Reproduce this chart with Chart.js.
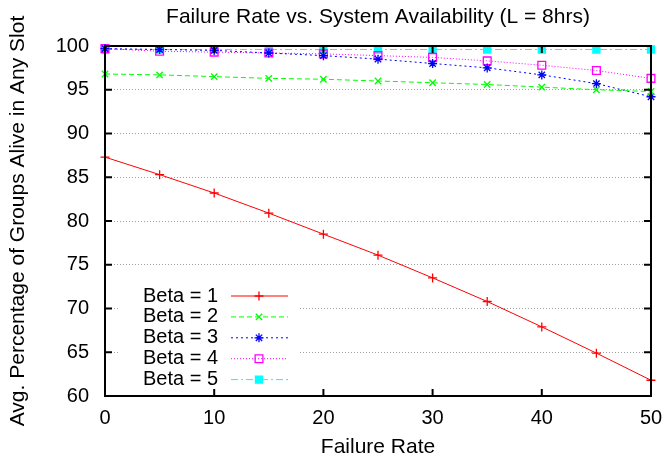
<!DOCTYPE html>
<html>
<head>
<meta charset="utf-8">
<script src="https://cdn.jsdelivr.net/npm/chart.js@4/dist/chart.umd.min.js"></script>
<style>
  html, body { margin: 0; padding: 0; background: #fff; }
</style>
</head>
<body>
<canvas id="myChart" width="665" height="460"></canvas>
<script>
// values, x = failure rate
var failureRates = [0, 5, 10, 15, 20, 25, 30, 35, 40, 45, 50];
var beta1 = [87.3, 85.3, 83.2, 80.9, 78.5, 76.1, 73.5, 70.8, 67.9, 64.9, 61.8];
var beta2 = [96.8, 96.7, 96.5, 96.3, 96.2, 96.0, 95.8, 95.6, 95.3, 95.0, 94.8];
var beta3 = [99.7, 99.6, 99.5, 99.2, 98.9, 98.5, 98.0, 97.5, 96.7, 95.7, 94.2];
var beta4 = [99.7, 99.4, 99.3, 99.2, 99.1, 98.9, 98.7, 98.3, 97.8, 97.2, 96.3];
var beta5 = [99.6, 99.6, 99.6, 99.6, 99.6, 99.6, 99.6, 99.6, 99.6, 99.6, 99.6];
var seriesNames = ['Beta = 1', 'Beta = 2', 'Beta = 3', 'Beta = 4', 'Beta = 5'];
var xTicks = [0, 10, 20, 30, 40, 50];
var yTicks = [60, 65, 70, 75, 80, 85, 90, 95, 100];
var chartTitle = 'Failure Rate vs. System Availability (L = 8hrs)';

var FONT = 'Liberation Sans, Arial, Helvetica, sans-serif';

function pts(ys) {
    return failureRates.map(function (x, i) { return { x: x, y: ys[i] }; });
}

function series(label, ys, color, dash, style, radius, filled) {
    return {
        label: label,
        data: pts(ys),
        borderColor: color,
        backgroundColor: filled ? color : 'rgba(0,0,0,0)',
        borderWidth: 1,
        borderDash: dash,
        pointStyle: style,
        pointRadius: radius,
        pointBorderWidth: 1.3,
        pointBorderColor: color,
        pointBackgroundColor: filled ? color : 'rgba(0,0,0,0)',
        tension: 0,
        fill: false,
        clip: false
    };
}

// key box inside the plot, bottom left (covers the grid like gnuplot's)
var keyPlugin = {
    id: 'key',
    afterDatasetsDraw: function (chart) {
        var ctx = chart.ctx;
        ctx.save();
        ctx.fillStyle = '#fff';
        ctx.fillRect(118, 283, 180, 110);
        ctx.font = '20px ' + FONT;
        ctx.textAlign = 'right';
        ctx.textBaseline = 'middle';
        chart.data.datasets.forEach(function (ds, i) {
            var y = 296 + i * 20.9;
            ctx.fillStyle = '#000';
            ctx.fillText(ds.label, 218, y);
            ctx.strokeStyle = ds.borderColor;
            ctx.lineWidth = 1;
            ctx.setLineDash(ds.borderDash.slice());
            ctx.beginPath();
            ctx.moveTo(231, y);
            ctx.lineTo(288, y);
            ctx.stroke();
            ctx.setLineDash([]);
            ctx.fillStyle = ds.pointBackgroundColor;
            ctx.strokeStyle = ds.pointBorderColor;
            ctx.lineWidth = ds.pointBorderWidth;
            Chart.helpers.drawPoint(ctx, {
                pointStyle: ds.pointStyle,
                radius: ds.pointRadius,
                rotation: 0,
                borderWidth: ds.pointBorderWidth
            }, 259, y);
        });
        ctx.restore();
    }
};

// closed frame with mirrored inward ticks, title centred over the plot
var framePlugin = {
    id: 'frame',
    afterDraw: function (chart) {
        var ctx = chart.ctx, a = chart.chartArea;
        var xs = chart.scales.x, ys = chart.scales.y;
        ctx.save();
        ctx.setLineDash([]);
        ctx.strokeStyle = '#000';
        ctx.lineWidth = 2;
        ctx.strokeRect(a.left, a.top, a.right - a.left, a.bottom - a.top);
        ctx.beginPath();
        yTicks.forEach(function (v) {
            var py = ys.getPixelForValue(v);
            ctx.moveTo(a.left, py); ctx.lineTo(a.left + 7, py);
            ctx.moveTo(a.right, py); ctx.lineTo(a.right - 7, py);
        });
        xTicks.forEach(function (v) {
            var px = xs.getPixelForValue(v);
            ctx.moveTo(px, a.bottom); ctx.lineTo(px, a.bottom - 7);
            ctx.moveTo(px, a.top); ctx.lineTo(px, a.top + 7);
        });
        ctx.stroke();
        ctx.fillStyle = '#000';
        ctx.font = '21px ' + FONT;
        ctx.textAlign = 'center';
        ctx.textBaseline = 'middle';
        ctx.fillText(chartTitle, (a.left + a.right) / 2, 17);
        ctx.restore();
    }
};

var ctx = document.getElementById('myChart');
var myChart = new Chart(ctx, {
    type: 'line',
    data: {
        datasets: [
            series(seriesNames[0], beta1, '#ff0000', [], 'cross', 4.5, false),
            series(seriesNames[1], beta2, '#00ff00', [5, 3], 'crossRot', 4.5, false),
            series(seriesNames[2], beta3, '#0000ff', [2, 3], 'star', 4.5, false),
            series(seriesNames[3], beta4, '#ff00ff', [1, 2], 'rect', 5.5, false),
            series(seriesNames[4], beta5, '#00ffff', [7, 3, 2, 3], 'rect', 5, true)
        ]
    },
    options: {
        responsive: false,
        animation: false,
        devicePixelRatio: 1,
        layout: { padding: { left: 0, right: 14, top: 46, bottom: 0 } },
        plugins: {
            legend: { display: false },
            tooltip: { enabled: false },
            title: { display: false }
        },
        scales: {
            x: {
                type: 'linear',
                min: 0,
                max: 50,
                afterFit: function (s) { s.height = 64; s.paddingLeft = 0; s.paddingRight = 0; },
                afterBuildTicks: function (s) { s.ticks = xTicks.map(function (v) { return { value: v }; }); },
                grid: { display: false, drawTicks: false },
                border: { display: false },
                ticks: { color: '#000', padding: 10, autoSkip: false, maxRotation: 0, font: { family: FONT, size: 20 } },
                title: {
                    display: true,
                    text: 'Failure Rate',
                    color: '#000',
                    font: { family: FONT, size: 21 },
                    padding: { top: 0, bottom: 0 }
                }
            },
            y: {
                min: 60,
                max: 100,
                afterFit: function (s) { s.width = 105; },
                afterBuildTicks: function (s) { s.ticks = yTicks.map(function (v) { return { value: v }; }); },
                grid: { drawTicks: false, lineWidth: 1, color: '#a0a0a0' },
                border: { display: false, dash: [1, 2] },
                ticks: { color: '#000', padding: 16, font: { family: FONT, size: 20 } },
                title: {
                    display: true,
                    text: 'Avg. Percentage of Groups Alive in Any Slot',
                    color: '#000',
                    font: { family: FONT, size: 21 },
                    padding: { top: 6, bottom: 0 }
                }
            }
        }
    },
    plugins: [keyPlugin, framePlugin]
});
</script>
</body>
</html>
